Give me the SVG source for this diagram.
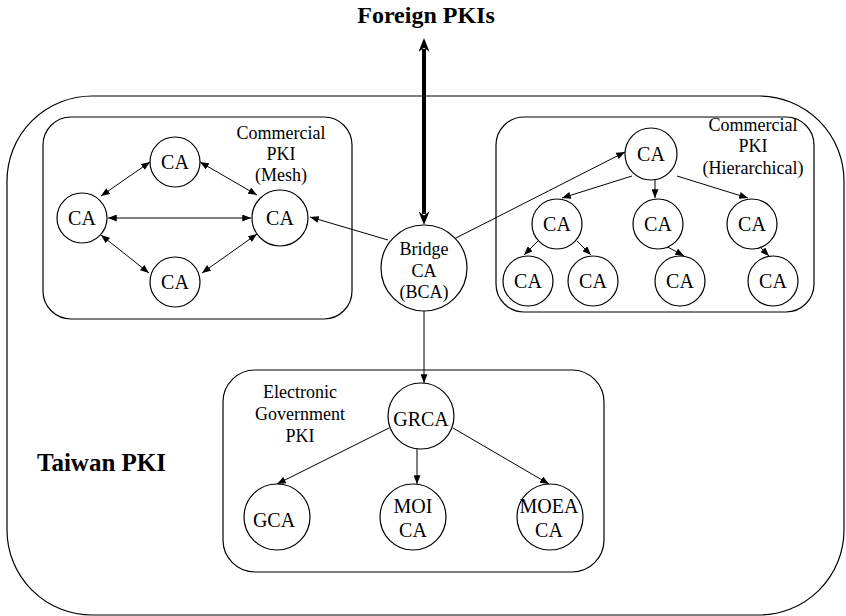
<svg xmlns="http://www.w3.org/2000/svg" width="846" height="616" viewBox="0 0 846 616">
  <style>
    .box { fill: none; stroke: #000; stroke-width: 1.2; }
    .node { fill: #fff; stroke: #000; stroke-width: 1.2; }
    .lbl { font-family: "Liberation Serif", "Times New Roman", serif; font-size: 20px; fill: #000; text-anchor: middle; }
    .cap { font-family: "Liberation Serif", "Times New Roman", serif; font-size: 18px; fill: #000; text-anchor: middle; }
    .title { font-family: "Liberation Serif", "Times New Roman", serif; font-weight: bold; fill: #000; }
    .edge { stroke: #000; stroke-width: 1; fill: none; marker-end: url(#ah); }
    .dbl { stroke: #000; stroke-width: 1; fill: none; marker-start: url(#ah); marker-end: url(#ah); }
  </style>
  <defs>
    <marker id="ah" viewBox="0 0 10 8" refX="10" refY="4" markerWidth="9" markerHeight="7" markerUnits="userSpaceOnUse" orient="auto-start-reverse">
      <path d="M0,0 L10,4 L0,8 z" fill="#000"/>
    </marker>
    <marker id="ahb" viewBox="0 0 10 8" refX="2" refY="4" markerWidth="14" markerHeight="11" markerUnits="userSpaceOnUse" orient="auto-start-reverse">
      <path d="M0,0 L10,4 L0,8 L3,4 z" fill="#000"/>
    </marker>
  </defs>

  <!-- Outer domain and sub-domain frames -->
  <g id="taiwan-pki">
    <rect class="box" x="7" y="96" width="837" height="519" rx="85" ry="85"/>
    <text class="title" x="37" y="471" font-size="25">Taiwan PKI</text>
  </g>
  <text class="title" x="426" y="23" font-size="24" text-anchor="middle">Foreign PKIs</text>

  <g id="mesh-pki">
    <rect class="box" x="43" y="117" width="309" height="202" rx="28" ry="28"/>
    <text class="cap" x="281" y="139">Commercial</text>
    <text class="cap" x="281" y="160">PKI</text>
    <text class="cap" x="281" y="181">(Mesh)</text>
  </g>
  <g id="hier-pki">
    <rect class="box" x="496" y="117" width="318" height="195" rx="28" ry="28"/>
    <text class="cap" x="753" y="131" font-size="17.5">Commercial</text>
    <text class="cap" x="753" y="152" font-size="17.5">PKI</text>
    <text class="cap" x="753" y="174" font-size="17.5">(Hierarchical)</text>
  </g>
  <g id="gov-pki">
    <rect class="box" x="223" y="370" width="381" height="202" rx="32" ry="32"/>
    <text class="cap" x="300" y="398">Electronic</text>
    <text class="cap" x="300" y="420">Government</text>
    <text class="cap" x="300" y="442">PKI</text>
  </g>

  <!-- Connectors -->
  <g id="connectors">
    <line x1="424" y1="49" x2="424" y2="214" stroke="#000" stroke-width="4" marker-start="url(#ahb)" marker-end="url(#ahb)"/>
    <!-- mesh -->
    <line class="dbl" x1="150" y1="162" x2="101" y2="196"/>
    <line class="dbl" x1="200" y1="162" x2="257" y2="195"/>
    <line class="dbl" x1="108" y1="218" x2="251" y2="218"/>
    <line class="dbl" x1="101" y1="235" x2="149" y2="273"/>
    <line class="dbl" x1="202" y1="273" x2="257" y2="234"/>
    <!-- bridge links -->
    <line class="edge" x1="388" y1="240" x2="310" y2="217"/>
    <line class="edge" x1="454" y1="239" x2="625" y2="152"/>
    <line class="edge" x1="424" y1="311" x2="424" y2="383"/>
    <!-- hierarchical -->
    <line class="edge" x1="632" y1="176" x2="562" y2="198"/>
    <line class="edge" x1="655" y1="180" x2="655" y2="198"/>
    <line class="edge" x1="677" y1="176" x2="748" y2="198"/>
    <line class="edge" x1="538" y1="241" x2="524" y2="255"/>
    <line class="edge" x1="577" y1="241" x2="591" y2="255"/>
    <line class="edge" x1="666" y1="246" x2="684" y2="256"/>
    <line class="edge" x1="760" y1="247" x2="769" y2="256"/>
    <!-- government -->
    <line class="edge" x1="389" y1="428" x2="277" y2="484"/>
    <line class="edge" x1="417" y1="449" x2="417" y2="484"/>
    <line class="edge" x1="453" y1="428" x2="549" y2="484"/>
  </g>

  <!-- Mesh nodes -->
  <g id="mesh-top"><circle class="node" cx="175" cy="162" r="25"/><text class="lbl" x="175" y="169">CA</text></g>
  <g id="mesh-left"><circle class="node" cx="82" cy="218" r="25"/><text class="lbl" x="82" y="225">CA</text></g>
  <g id="mesh-right"><circle class="node" cx="280" cy="218" r="28"/><text class="lbl" x="280" y="225">CA</text></g>
  <g id="mesh-bottom"><circle class="node" cx="175" cy="282" r="25"/><text class="lbl" x="175" y="289">CA</text></g>

  <!-- Bridge -->
  <g id="bridge-ca">
    <circle class="node" cx="424" cy="268" r="43"/>
    <text class="cap" x="424" y="255">Bridge</text>
    <text class="cap" x="424" y="277">CA</text>
    <text class="cap" x="424" y="298">(BCA)</text>
  </g>

  <!-- Hierarchical nodes -->
  <g id="hier-root"><circle class="node" cx="651" cy="154" r="26"/><text class="lbl" x="651" y="161">CA</text></g>
  <g id="hier-l2a"><circle class="node" cx="557" cy="224" r="25"/><text class="lbl" x="557" y="231">CA</text></g>
  <g id="hier-l2b"><circle class="node" cx="658" cy="224" r="25"/><text class="lbl" x="658" y="231">CA</text></g>
  <g id="hier-l2c"><circle class="node" cx="752" cy="224" r="25"/><text class="lbl" x="752" y="231">CA</text></g>
  <g id="hier-l3a"><circle class="node" cx="528" cy="281" r="25"/><text class="lbl" x="528" y="288">CA</text></g>
  <g id="hier-l3b"><circle class="node" cx="593" cy="281" r="25"/><text class="lbl" x="593" y="288">CA</text></g>
  <g id="hier-l3c"><circle class="node" cx="680" cy="281" r="25"/><text class="lbl" x="680" y="288">CA</text></g>
  <g id="hier-l3d"><circle class="node" cx="773" cy="281" r="25"/><text class="lbl" x="773" y="288">CA</text></g>

  <!-- Government nodes -->
  <g id="grca"><circle class="node" cx="421" cy="416" r="33"/><text class="lbl" x="421" y="426">GRCA</text></g>
  <g id="gca"><circle class="node" cx="277" cy="517" r="33"/><text class="lbl" x="274" y="527">GCA</text></g>
  <g id="moi-ca"><circle class="node" cx="413" cy="517" r="33"/><text class="lbl" x="413" y="513">MOI</text><text class="lbl" x="413" y="537">CA</text></g>
  <g id="moea-ca"><circle class="node" cx="550" cy="517" r="33"/><text class="lbl" x="549" y="513">MOEA</text><text class="lbl" x="549" y="537">CA</text></g>
</svg>
